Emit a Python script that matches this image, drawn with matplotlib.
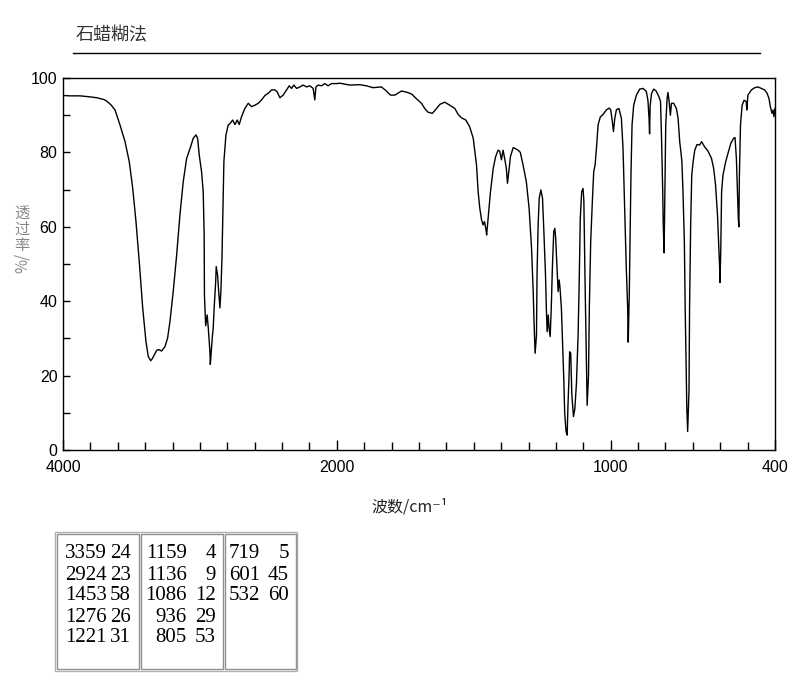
import numpy as np
import matplotlib
matplotlib.use("Agg")
import matplotlib.pyplot as plt
from matplotlib.patches import Rectangle
from matplotlib.ticker import FixedLocator, NullFormatter

# spectrum (wavenumber cm-1, transmittance %)
wavenumber = [
    4000, 3950, 3876, 3820, 3754, 3700, 3681, 3650, 3620, 3584, 3547, 3516, 3491, 3467,
    3443, 3418, 3394, 3377, 3359, 3345, 3316, 3300, 3280, 3255, 3236, 3219, 3195, 3170,
    3146, 3122, 3097, 3068, 3049, 3029, 3017, 3005, 2988, 2976, 2969, 2967, 2958, 2947,
    2939, 2927, 2924, 2910, 2903, 2896, 2885, 2881, 2871, 2863, 2854, 2847, 2839, 2832,
    2825, 2810, 2793, 2781, 2761, 2744, 2728, 2713, 2696, 2672, 2647, 2623, 2598, 2574,
    2550, 2525, 2501, 2477, 2452, 2436, 2416, 2392, 2367, 2348, 2331, 2314, 2294, 2270,
    2246, 2221, 2197, 2173, 2161, 2153, 2136, 2112, 2088, 2064, 2039, 2000,
    1989, 1953, 1916, 1892, 1868, 1837, 1819, 1804, 1788, 1764, 1746, 1727, 1709, 1691,
    1679, 1667, 1651, 1636, 1624, 1606, 1588, 1569, 1557, 1545, 1529, 1515, 1502, 1496,
    1490, 1484, 1478, 1472, 1466, 1461, 1456, 1453, 1448, 1439, 1429, 1420, 1411, 1405,
    1399, 1393, 1387, 1381, 1377, 1372, 1366, 1356, 1350, 1338, 1330, 1320, 1308, 1298,
    1289, 1283, 1280, 1276, 1271, 1269, 1265, 1261, 1255, 1249, 1244, 1238, 1235, 1232,
    1228, 1225, 1221, 1217, 1213, 1208, 1204, 1201, 1196, 1192, 1188, 1185, 1180, 1176,
    1171, 1168, 1163, 1159, 1156, 1152, 1150, 1146, 1142, 1136, 1131, 1125, 1119, 1115,
    1111, 1106, 1101, 1098, 1094, 1089, 1086, 1081, 1078, 1073, 1067, 1062, 1057, 1052,
    1046, 1038, 1028, 1016, 1006, 1000, 994, 990, 985, 979, 970, 961, 955, 949,
    943, 938, 936, 932, 929, 926, 922, 916, 906, 894, 882, 870, 864, 860,
    858, 856, 851, 843, 834, 824, 818, 814, 810, 808, 805, 802, 799, 794,
    791, 787, 782, 778, 770, 760, 754, 748, 743, 740, 736, 731, 728, 724,
    722, 719, 714, 712, 708, 704, 699, 693, 685, 675, 668, 657, 645, 632,
    624, 617, 610, 606, 602, 601, 598, 595, 590, 580, 570, 561, 551, 546,
    541, 537, 534, 532, 530, 526, 520, 513, 505, 503, 499, 486, 474, 462,
    450, 438, 429, 422, 417, 411, 407, 404, 400,
]
transmittance = [
    95.3, 95.2, 95.2, 95.0, 94.7, 94.2, 93.8, 92.8, 91.4, 87.4, 82.9, 77.5, 70.4, 61.4,
    50.6, 38.2, 29.1, 25.1, 24.0, 24.7, 26.8, 27.0, 26.6, 27.8, 30.1, 34.5, 42.6, 52.4,
    63.2, 72.1, 78.4, 81.5, 83.8, 84.7, 83.8, 79.3, 74.8, 69.4, 57.8, 41.7, 33.4, 36.3,
    32.8, 26.4, 23.0, 30.1, 32.8, 38.2, 45.2, 49.3, 47.0, 42.6, 38.2, 42.6, 51.5, 65.0,
    77.5, 84.7, 87.4, 87.7, 88.7, 87.5, 88.7, 87.5, 89.6, 91.8, 93.2, 92.3, 92.7, 93.2,
    94.1, 95.3, 95.9, 96.8, 96.8, 96.3, 94.7, 95.4, 96.8, 97.9, 97.2, 98.1, 97.2, 97.6,
    98.1, 97.6, 97.9, 97.2, 94.1, 97.6, 98.1, 97.9, 98.5, 97.9, 98.5, 98.5,
    98.6, 98.1, 98.2, 97.9, 97.4, 97.6, 96.5, 95.4, 95.4, 96.5, 96.2, 95.7, 94.4, 93.2,
    91.8, 90.8, 90.5, 91.8, 92.9, 93.5, 92.7, 91.8, 90.2, 89.3, 88.7, 86.9, 83.8, 80.2,
    76.6, 69.4, 65.0, 62.0, 60.5, 61.4, 59.5, 57.8, 62.0, 69.4, 75.7, 78.9, 80.6, 80.3,
    78.0, 80.6, 78.3, 75.7, 71.7, 74.8, 78.9, 81.3, 81.1, 80.6, 80.0, 76.6, 72.1, 65.0,
    54.2, 42.6, 34.5, 26.0, 30.9, 47.0, 60.5, 67.7, 69.9, 67.7, 58.7, 47.0, 38.1, 31.8,
    36.3, 32.8, 30.5, 38.2, 48.8, 58.7, 59.6, 57.0, 48.8, 42.6, 45.7, 43.5, 38.1, 29.1,
    18.4, 10.0, 5.0, 4.0, 12.0, 20.0, 26.4, 26.0, 15.0, 9.0, 11.0, 18.0, 30.9, 45.2,
    62.3, 69.4, 70.3, 67.0, 47.0, 24.6, 12.0, 20.0, 38.2, 56.0, 66.8, 74.8, 76.6, 81.1,
    87.4, 89.5, 90.2, 91.4, 91.9, 91.5, 88.3, 85.6, 89.2, 91.5, 91.8, 89.2, 81.1, 65.0,
    48.8, 38.1, 29.0, 42.6, 57.8, 73.9, 87.4, 92.7, 95.4, 97.0, 97.2, 96.4, 94.0, 89.2,
    85.0, 92.5, 95.8, 97.0, 96.5, 95.0, 93.7, 82.9, 69.4, 60.5, 53.0, 69.4, 87.4, 94.5,
    96.1, 94.0, 90.0, 93.2, 93.2, 91.8, 89.2, 82.9, 79.7, 77.5, 69.4, 56.0, 38.2, 20.3,
    11.3, 5.0, 16.0, 38.2, 60.5, 73.9, 77.5, 80.6, 82.1, 82.0, 82.9, 81.5, 80.4, 78.4,
    75.7, 71.2, 63.2, 56.0, 48.8, 45.0, 54.0, 69.4, 73.9, 77.5, 80.2, 82.5, 83.8, 84.0,
    78.4, 69.4, 62.3, 60.0, 73.9, 87.4, 92.7, 94.0, 93.7, 91.4, 95.4, 96.8, 97.4, 97.6,
    97.2, 96.8, 95.9, 94.5, 92.3, 90.5, 91.4, 89.6, 91.8,
]

# peak table
peak_wn = [3359, 2924, 1453, 1276, 1221, 1159, 1136, 1086, 936, 805, 719, 601, 532]
peak_t = [24, 23, 58, 26, 31, 4, 9, 12, 29, 53, 5, 45, 60]

title = "石蜡糊法"
ylabel_chars = ["透", "过", "率"]
xlabel = "波数/cm⁻¹"
xtick_vals = [4000, 2000, 1000, 400]
ytick_vals = [0, 20, 40, 60, 80, 100]

W, H = 794, 680
cjk = ["Noto Sans CJK SC", "DejaVu Sans"]


def fx(x):
    return x / W


def fy(y):
    return 1 - y / H


# wavenumber axis: 2000-4000 at half the scale of 400-2000
def fwd(w):
    w = np.asarray(w, dtype=float)
    return np.where(w <= 2000, w / 1000, 2 + (w - 2000) / 2000)


def inv(u):
    u = np.asarray(u, dtype=float)
    return np.where(u <= 2, u * 1000, 2000 + (u - 2) * 2000)


fig = plt.figure(figsize=(W / 100, H / 100), dpi=100)
ax = fig.add_axes([fx(63), fy(450), fx(775 - 63), (450 - 78) / H])
ax.set_xscale("function", functions=(fwd, inv))
ax.plot(wavenumber, transmittance, color="black", lw=1.0)
ax.set_xlim(4000, 400)
ax.set_ylim(0, 100)

minor_x = list(range(3800, 2000, -200)) + list(range(1900, 400, -100))
ax.xaxis.set_major_locator(FixedLocator(xtick_vals))
ax.xaxis.set_minor_locator(FixedLocator(minor_x))
ax.yaxis.set_major_locator(FixedLocator(ytick_vals))
ax.yaxis.set_minor_locator(FixedLocator(list(range(10, 100, 20))))
ax.xaxis.set_minor_formatter(NullFormatter())
ax.set_xticklabels([str(v) for v in xtick_vals])
ax.set_yticklabels([str(v) for v in ytick_vals])

for lab in ax.get_xticklabels() + ax.get_yticklabels():
    lab.set_family("Liberation Sans")
    lab.set_fontsize(11.5)
ax.tick_params(which="both", direction="in", length=6, width=1, color="black",
               top=False, right=False)
ax.tick_params(axis="x", which="major", length=7, pad=7)
ax.tick_params(axis="y", which="both", length=5, pad=4)
for sp in ax.spines.values():
    sp.set_linewidth(1.0)
    sp.set_color("black")

# title and rule
fig.text(fx(76), fy(35), title, family=cjk, fontsize=13, color="#333333",
         ha="left", va="center")
fig.add_artist(plt.Line2D([fx(73), fx(760)], [fy(53), fy(53)], color="black", lw=1))

# y label: upright CJK stacked, then rotated "/%"
for i, ch in enumerate(ylabel_chars):
    fig.text(fx(22), fy(213 + i * 16), ch, family=cjk, fontsize=11,
             color="#888888", ha="center", va="center")
fig.text(fx(22), fy(263), "%/", family=cjk, fontsize=11, color="#888888",
         ha="center", va="center", rotation=90)

fig.text(fx(410), fy(507), xlabel, family=cjk, fontsize=11.5, color="#222222",
         ha="center", va="center")

# peak table
fig.add_artist(Rectangle((fx(55), fy(671)), fx(297 - 55), (671 - 532) / H,
                         fill=False, edgecolor="#b0b0b0", lw=1))
cells = [(57, 139), (141, 223), (225, 296)]
wn_right = [107, 187, 260]
t_right = [131, 216, 289]
for c, (x0, x1) in enumerate(cells):
    fig.add_artist(Rectangle((fx(x0), fy(669)), fx(x1 - x0), (669 - 534) / H,
                             fill=False, edgecolor="#909090", lw=1))
    for r in range(5):
        k = c * 5 + r
        if k >= len(peak_wn):
            break
        y = fy(554 + r * 21)
        fig.text(fx(wn_right[c]), y, str(peak_wn[k]), family="Liberation Serif",
                 fontsize=15, ha="right", va="center")
        fig.text(fx(t_right[c]), y, str(peak_t[k]), family="Liberation Serif",
                 fontsize=15, ha="right", va="center")

fig.savefig("out.png", dpi=100)
